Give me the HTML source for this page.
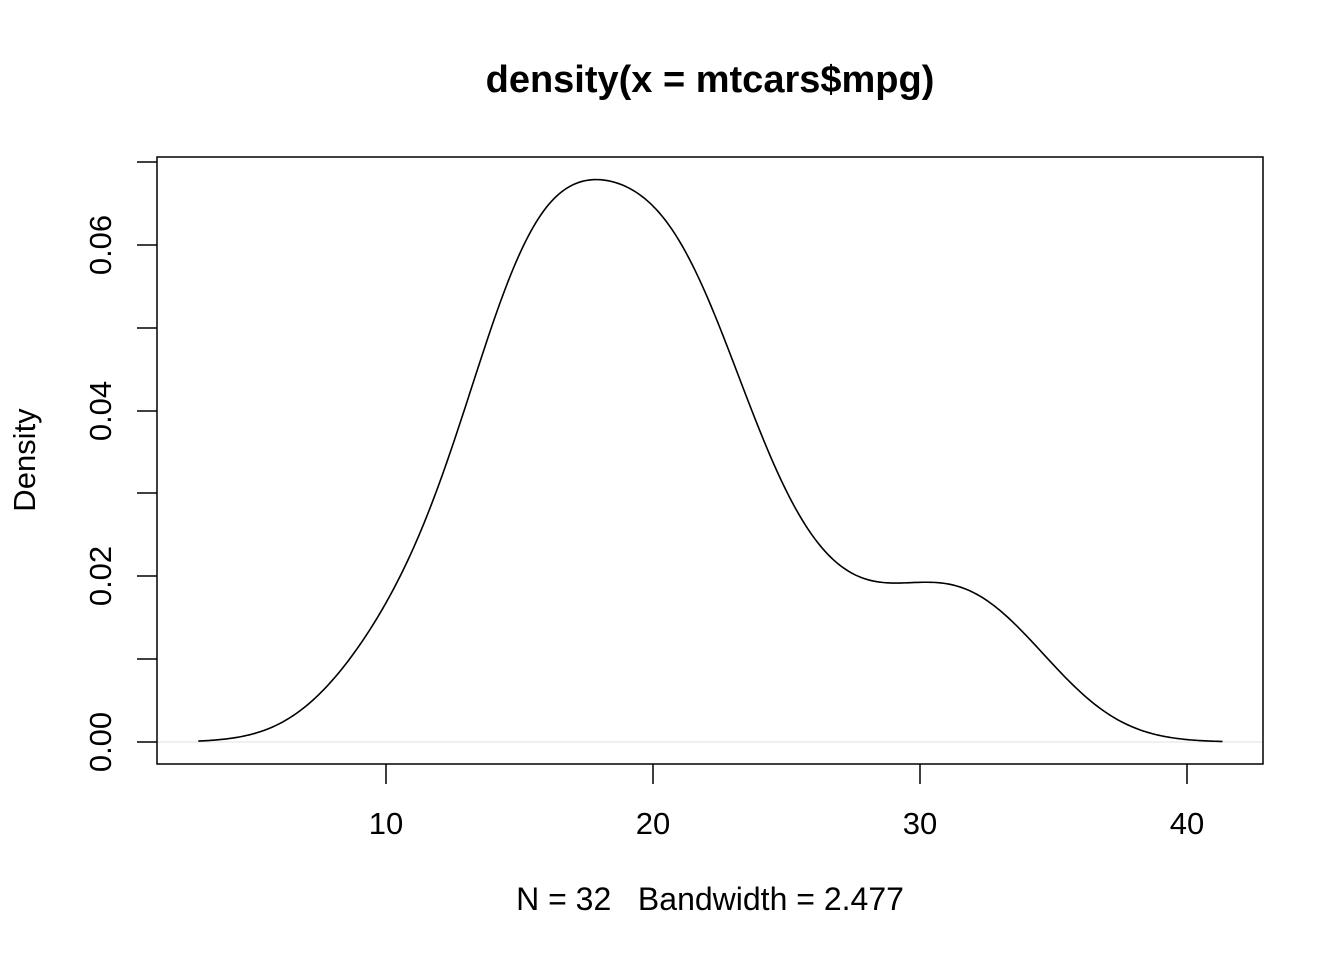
<!DOCTYPE html>
<html><head><meta charset="utf-8"><style>
html,body{margin:0;padding:0;background:#fff;}
svg{display:block;font-family:"Liberation Sans",Arial,sans-serif;}
</style></head><body>
<svg id="s" width="1344" height="960" viewBox="0 0 1344 960">
<rect width="1344" height="960" fill="#fff"/>
<line x1="157" y1="742" x2="1263" y2="742" stroke="#e6e6e6" stroke-width="1.3"/>
<path id="curve" d="" fill="none" stroke="#000" stroke-width="1.6"/>
<rect x="157" y="157" width="1106" height="607" fill="none" stroke="#000" stroke-width="1.5"/>
<g stroke="#000" stroke-width="1.5">
<line x1="386" y1="764" x2="386" y2="784"/><line x1="653" y1="764" x2="653" y2="784"/>
<line x1="920" y1="764" x2="920" y2="784"/><line x1="1187" y1="764" x2="1187" y2="784"/>
<line x1="137" y1="742" x2="157" y2="742"/><line x1="137" y1="659" x2="157" y2="659"/>
<line x1="137" y1="576" x2="157" y2="576"/><line x1="137" y1="493" x2="157" y2="493"/>
<line x1="137" y1="411" x2="157" y2="411"/><line x1="137" y1="328" x2="157" y2="328"/>
<line x1="137" y1="245" x2="157" y2="245"/><line x1="137" y1="162" x2="157" y2="162"/>
</g>
<g font-size="31" text-anchor="middle" fill="#000">
<text x="386" y="834">10</text><text x="653" y="834">20</text>
<text x="920" y="834">30</text><text x="1187" y="834">40</text>
<text transform="translate(111,742) rotate(-90)">0.00</text>
<text transform="translate(111,576) rotate(-90)">0.02</text>
<text transform="translate(111,411) rotate(-90)">0.04</text>
<text transform="translate(111,245) rotate(-90)">0.06</text>
<text transform="translate(35,460) rotate(-90)">Density</text>
<text x="710" y="910" font-size="32">N = 32&#160;&#160;&#160;Bandwidth = 2.477</text>
<text x="710" y="92" font-size="38" font-weight="bold">density(x = mtcars$mpg)</text>
</g>
</svg>
<script>
var d=[21,21,22.8,21.4,18.7,18.1,14.3,24.4,22.8,19.2,17.8,16.4,17.3,15.2,10.4,10.4,14.7,32.4,30.4,33.9,21.5,15.5,15.2,13.3,19.2,27.3,26,30.4,15.8,19.7,15,21.4];
var bw=2.477,lo=10.4-3*bw,hi=33.9+3*bw,p="";
for(var i=0;i<=400;i++){var x=lo+(hi-lo)*i/400,s=0;
for(var j=0;j<d.length;j++){var z=(x-d[j])/bw;s+=Math.exp(-z*z/2);}
var y=s/(d.length*bw*Math.sqrt(2*Math.PI));
var px=386+(x-10)*26.7,py=742-y*8283;
p+=(i?"L":"M")+px.toFixed(2)+","+py.toFixed(2);}
document.getElementById("curve").setAttribute("d",p);
</script>
</body></html>
